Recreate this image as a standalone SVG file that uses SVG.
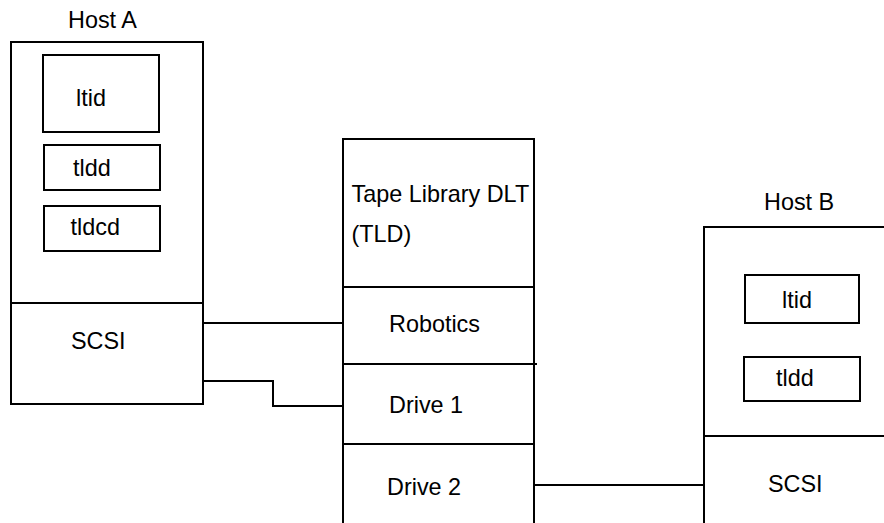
<svg xmlns="http://www.w3.org/2000/svg" width="884" height="523" viewBox="0 0 884 523">
<style>
.b{fill:none;stroke:#000;stroke-width:2}
.t{font-family:"Liberation Sans",Arial,sans-serif;font-size:23.4px;fill:#000}
.c{fill:none;stroke:#000;stroke-width:2}
</style>
<rect width="884" height="523" fill="#fff"/>
<g id="hostA">
<text class="t" x="68" y="28">Host A</text>
<rect class="b" x="11" y="42" width="192" height="362"/>
<line class="b" x1="11" y1="303" x2="203" y2="303"/>
<text class="t" x="71" y="349">SCSI</text>
</g>
<g id="hostA-ltid">
<rect class="b" x="43" y="55" width="116" height="77"/>
<text class="t" x="76" y="106">ltid</text>
</g>
<g id="hostA-tldd">
<rect class="b" x="44" y="145" width="116" height="45"/>
<text class="t" x="73" y="176">tldd</text>
</g>
<g id="hostA-tldcd">
<rect class="b" x="44" y="206" width="116" height="45"/>
<text class="t" x="70.5" y="235">tldcd</text>
</g>
<g id="tld">
<path class="b" d="M343,523 V139 H534 V523"/>
<line class="b" x1="342" y1="287" x2="534" y2="287"/>
<line class="b" x1="343" y1="364" x2="537" y2="364"/>
<line class="b" x1="342" y1="444" x2="534" y2="444"/>
<text class="t" x="351.5" y="202">Tape Library DLT</text>
<text class="t" x="351.5" y="241.5">(TLD)</text>
<text class="t" x="389" y="332">Robotics</text>
<text class="t" x="389" y="413">Drive 1</text>
<text class="t" x="387" y="495">Drive 2</text>
</g>
<g id="hostB">
<text class="t" x="764" y="210">Host B</text>
<path class="b" d="M704,523 V227 H884"/>
<line class="b" x1="704" y1="436" x2="884" y2="436"/>
<text class="t" x="768" y="492">SCSI</text>
</g>
<g id="hostB-ltid">
<rect class="b" x="745" y="275" width="114" height="48"/>
<text class="t" x="782" y="308">ltid</text>
</g>
<g id="hostB-tldd">
<rect class="b" x="744" y="357" width="116" height="44"/>
<text class="t" x="776" y="386">tldd</text>
</g>
<g id="connectors">
<polyline class="c" points="203,323 343,323"/>
<polyline class="c" points="203,381 273,381 273,406 343,406"/>
<polyline class="c" points="534,485 704,485"/>
</g>
</svg>
